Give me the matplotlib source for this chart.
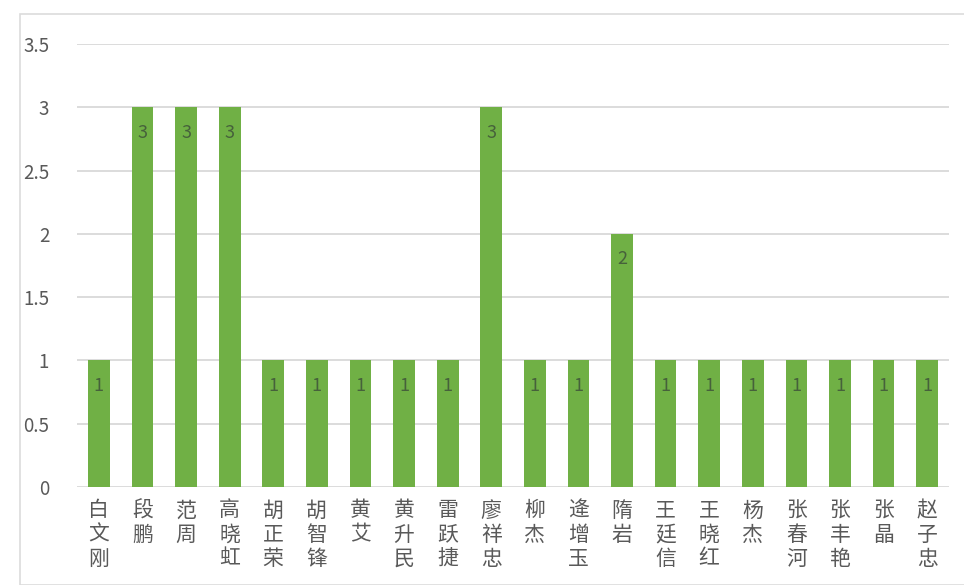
import matplotlib
matplotlib.use("Agg")
import matplotlib.pyplot as plt
from matplotlib.patches import Rectangle
import numpy as np

plt.rcParams['font.family'] = ['Noto Sans CJK SC', 'DejaVu Sans']

names = ["白文刚", "段鹏", "范周", "高晓虹", "胡正荣", "胡智锋", "黄艾", "黄升民", "雷跃捷", "廖祥忠",
         "柳杰", "逄增玉", "隋岩", "王廷信", "王晓红", "杨杰", "张春河", "张丰艳", "张晶", "赵子忠"]
values = [1, 3, 3, 3, 1, 1, 1, 1, 1, 3, 1, 1, 2, 1, 1, 1, 1, 1, 1, 1]
yticks = [0, 0.5, 1, 1.5, 2, 2.5, 3, 3.5]
ytick_labels = ["0", "0.5", "1", "1.5", "2", "2.5", "3", "3.5"]

fig = plt.figure(figsize=(9.64, 5.85), dpi=100)
fig.patches.append(Rectangle((20/964, 0), 1, 1 - 14/585, transform=fig.transFigure,
                             fill=False, edgecolor='#dcdcdc', linewidth=1.2))
ax = fig.add_axes([77/964, 1 - 487/585, 872/964, (487 - 44)/585])

x = np.arange(len(names))
ax.bar(x, values, width=0.5, color='#70b045', zorder=3)
for xi, v in zip(x, values):
    ax.text(xi, v - 0.2, str(v), ha='center', va='center', fontsize=13,
            color='#46613b', zorder=4)

ax.set_xlim(-0.5, len(names) - 0.5)
ax.set_ylim(0, 3.5)
ax.set_yticks(yticks)
ax.set_yticklabels(ytick_labels, fontsize=13.5, color='#595959')
ax.set_xticks(x)
ax.set_xticklabels(['\n'.join(n) for n in names], fontsize=15, color='#595959',
                   va='top', linespacing=1.12)
ax.tick_params(axis='both', length=0)
ax.tick_params(axis='y', pad=20)
ax.tick_params(axis='x', pad=9)
ax.yaxis.grid(True, color='#d9d9d9', linewidth=1.3, zorder=0)
for s in ax.spines.values():
    s.set_visible(False)

fig.savefig('out.png', dpi=100)
